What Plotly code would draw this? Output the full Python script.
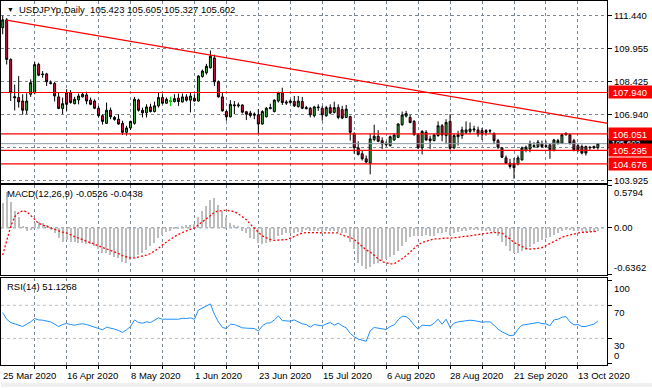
import plotly.graph_objects as go

# ---------------- data ----------------
bar_index = list(range(150))

opens = [110.90, 111.26, 109.45, 107.75, 107.71, 107.55, 107.13, 107.86, 107.93, 109.22,
         108.79, 108.79, 108.39, 108.35, 107.74, 107.21, 107.93, 107.93, 107.43, 107.60,
         107.74, 107.83, 107.59, 107.55, 107.22, 106.88, 106.53, 107.13, 106.80, 106.72,
         106.53, 106.12, 106.32, 106.53, 107.60, 107.13, 107.01, 107.28, 107.07, 107.33,
         107.71, 107.45, 107.55, 107.53, 107.68, 107.51, 107.74, 107.59, 107.68, 107.55,
         108.67, 108.84, 109.07, 109.52, 108.43, 107.74, 107.07, 106.83, 107.33, 107.33,
         107.37, 107.06, 107.00, 106.90, 106.92, 106.50, 106.83, 107.20, 107.07, 107.55,
         107.93, 107.51, 107.48, 107.53, 107.30, 107.53, 107.25, 107.22, 106.88, 107.28,
         107.22, 106.88, 107.25, 107.03, 107.25, 107.16, 106.80, 106.84, 106.07, 105.41,
         105.14, 104.91, 104.71, 105.79, 105.94, 105.74, 105.62, 105.51, 105.77, 105.89,
         106.47, 106.86, 106.80, 106.62, 106.01, 105.41, 106.12, 105.82, 105.74, 105.97,
         106.42, 105.97, 106.62, 105.41, 105.92, 105.97, 106.12, 106.16, 106.23, 106.23,
         106.20, 106.12, 106.20, 106.07, 105.74, 105.41, 104.95, 104.71, 104.68, 104.68,
         104.86, 105.29, 105.36, 105.47, 105.47, 105.59, 105.51, 105.55, 105.29, 105.62,
         105.62, 106.01, 106.01, 105.74, 105.51, 105.47, 105.47, 105.41, 105.41, 105.423]
highs = [111.45, 111.34, 109.50, 108.30, 108.69, 107.86, 107.90, 108.54, 109.33, 109.30,
         108.92, 108.84, 108.49, 108.43, 107.93, 107.71, 108.09, 108.05, 107.74, 107.89,
         107.93, 107.98, 107.71, 107.63, 107.33, 106.95, 107.48, 107.25, 106.87, 106.95,
         106.65, 106.42, 106.65, 107.74, 107.66, 107.25, 107.40, 107.43, 107.52, 107.93,
         107.86, 107.71, 107.74, 107.86, 107.89, 107.89, 107.86, 107.93, 107.86, 108.73,
         108.99, 109.25, 109.86, 109.67, 108.49, 107.93, 107.13, 107.59, 107.55, 107.48,
         107.40, 107.10, 107.10, 107.03, 107.18, 107.13, 107.28, 107.43, 107.63, 107.98,
         108.16, 107.59, 107.63, 107.78, 107.78, 107.74, 107.33, 107.28, 107.33, 107.40,
         107.33, 107.33, 107.40, 107.52, 107.40, 107.33, 107.37, 106.88, 106.12, 105.71,
         105.29, 105.06, 106.04, 106.47, 106.22, 105.89, 105.71, 105.97, 106.07, 106.53,
         107.07, 107.10, 106.92, 106.68, 106.07, 106.22, 106.22, 105.97, 106.04, 106.62,
         106.50, 106.72, 106.95, 106.04, 106.19, 106.38, 106.62, 106.57, 106.42, 106.38,
         106.32, 106.27, 106.27, 106.12, 105.82, 105.44, 105.06, 104.91, 104.95, 105.06,
         105.47, 105.51, 105.74, 105.67, 105.77, 105.74, 105.74, 105.59, 105.82, 105.82,
         106.04, 106.12, 106.04, 105.82, 105.59, 105.56, 105.51, 105.47, 105.51, 105.605]
lows = [110.60, 109.22, 107.55, 107.12, 107.25, 106.92, 106.95, 107.74, 107.86, 108.69,
        108.61, 108.24, 108.31, 107.53, 107.18, 106.95, 107.10, 107.43, 107.40, 107.40,
        107.71, 107.40, 107.36, 107.18, 106.80, 106.47, 106.50, 106.72, 106.65, 106.47,
        106.00, 105.97, 106.23, 106.47, 107.07, 106.80, 106.80, 107.03, 107.03, 107.25,
        107.40, 107.43, 107.33, 107.48, 107.33, 107.48, 107.53, 107.03, 107.53, 107.53,
        108.62, 108.76, 109.04, 108.24, 107.71, 107.07, 106.65, 106.80, 106.95, 107.25,
        106.98, 106.68, 106.80, 106.72, 106.06, 106.47, 106.80, 107.18, 107.03, 107.48,
        107.37, 107.37, 107.43, 107.28, 107.25, 107.18, 107.18, 106.80, 106.80, 107.10,
        106.65, 106.83, 106.95, 106.98, 106.72, 106.72, 106.77, 105.74, 105.14, 105.06,
        104.83, 104.71, 104.20, 105.71, 105.67, 105.36, 105.47, 105.47, 105.74, 105.86,
        106.42, 106.80, 106.53, 105.97, 105.36, 105.11, 105.74, 105.36, 105.71, 105.92,
        105.71, 105.59, 105.32, 105.36, 105.52, 105.82, 106.04, 106.04, 106.12, 105.92,
        105.77, 105.97, 106.07, 105.59, 105.36, 104.95, 104.68, 104.46, 104.00, 104.61,
        104.83, 105.21, 105.21, 105.41, 105.41, 105.41, 105.41, 104.91, 105.25, 105.56,
        105.59, 105.97, 105.56, 105.25, 105.21, 105.11, 105.06, 105.32, 105.36, 105.327]
closes = [111.26, 109.45, 107.93, 107.70, 107.51, 107.13, 107.55, 108.39, 109.22, 108.73,
          108.76, 108.43, 108.35, 107.78, 107.21, 107.43, 107.40, 107.48, 107.63, 107.78,
          107.86, 107.55, 107.40, 107.22, 106.88, 106.62, 107.13, 106.83, 106.71, 106.50,
          106.12, 106.32, 106.62, 107.63, 107.13, 107.01, 107.28, 107.07, 107.33, 107.71,
          107.45, 107.63, 107.55, 107.66, 107.53, 107.74, 107.59, 107.78, 107.55, 108.69,
          108.92, 109.14, 109.60, 108.43, 107.74, 107.10, 106.83, 107.40, 107.37, 107.37,
          107.04, 106.95, 106.89, 106.95, 106.50, 107.07, 107.22, 107.25, 107.59, 107.93,
          107.48, 107.46, 107.55, 107.33, 107.55, 107.22, 107.20, 106.92, 107.28, 107.25,
          106.92, 107.25, 107.00, 107.25, 106.80, 106.77, 107.18, 106.12, 105.41, 105.11,
          104.91, 104.76, 105.82, 105.94, 105.71, 105.59, 105.56, 105.92, 106.00, 106.50,
          106.91, 106.98, 106.57, 106.01, 105.41, 106.16, 105.77, 105.74, 106.00, 106.42,
          106.00, 106.57, 105.39, 105.97, 106.01, 106.23, 106.23, 106.27, 106.27, 106.04,
          106.04, 106.20, 106.18, 105.74, 105.44, 104.98, 104.71, 104.56, 104.50, 104.95,
          105.41, 105.44, 105.59, 105.51, 105.67, 105.47, 105.47, 105.32, 105.77, 105.74,
          106.01, 106.07, 105.62, 105.32, 105.32, 105.17, 105.17, 105.44, 105.47, 105.602]

macd_main = [0.33, 0.49, 0.35, 0.22, 0.15, 0.02, -0.05, -0.03, 0.06, 0.07,
             0.06, 0.03, -0.03, -0.07, -0.14, -0.19, -0.17, -0.19, -0.20, -0.21,
             -0.21, -0.22, -0.23, -0.25, -0.29, -0.34, -0.34, -0.37, -0.40, -0.42,
             -0.47, -0.48, -0.44, -0.40, -0.37, -0.34, -0.30, -0.25, -0.21, -0.14,
             -0.10, -0.06, -0.04, -0.02, -0.01, 0.02, 0.03, 0.04, 0.05, 0.15,
             0.22, 0.29, 0.38, 0.40, 0.31, 0.22, 0.15, 0.06, 0.03, 0.01,
             -0.05, -0.08, -0.14, -0.16, -0.21, -0.23, -0.21, -0.19, -0.15, -0.12,
             -0.10, -0.08, -0.07, -0.07, -0.06, -0.06, -0.03, -0.05, -0.04, -0.04,
             -0.06, -0.05, -0.05, -0.04, -0.06, -0.08, -0.07, -0.19, -0.29, -0.48,
             -0.52, -0.56, -0.53, -0.50, -0.48, -0.45, -0.43, -0.40, -0.37, -0.32,
             -0.25, -0.19, -0.13, -0.11, -0.12, -0.11, -0.10, -0.12, -0.11, -0.08,
             -0.07, -0.06, -0.10, -0.08, -0.06, -0.05, -0.04, -0.03, -0.03, -0.03,
             -0.04, -0.04, -0.04, -0.06, -0.11, -0.19, -0.25, -0.32, -0.34, -0.34,
             -0.32, -0.30, -0.26, -0.23, -0.20, -0.17, -0.14, -0.13, -0.10, -0.07,
             -0.04, -0.03, -0.03, -0.04, -0.04, -0.05, -0.06, -0.06, -0.06, -0.0526]
macd_signal = [-0.37, -0.16, 0.02, 0.15, 0.21, 0.23, 0.22, 0.17, 0.11, 0.06,
               0.04, 0.02, -0.01, -0.03, -0.05, -0.06, -0.07, -0.10, -0.12, -0.14,
               -0.16, -0.19, -0.21, -0.23, -0.25, -0.27, -0.28, -0.30, -0.32, -0.35,
               -0.38, -0.40, -0.41, -0.41, -0.40, -0.39, -0.37, -0.35, -0.32, -0.28,
               -0.23, -0.19, -0.15, -0.12, -0.09, -0.06, -0.04, -0.02, 0.00, 0.04,
               0.08, 0.13, 0.17, 0.21, 0.23, 0.24, 0.24, 0.23, 0.22, 0.19,
               0.15, 0.11, 0.05, -0.01, -0.06, -0.11, -0.14, -0.16, -0.17, -0.17,
               -0.17, -0.16, -0.14, -0.12, -0.10, -0.07, -0.065, -0.065, -0.065, -0.065,
               -0.065, -0.065, -0.065, -0.065, -0.07, -0.10, -0.11, -0.13, -0.16, -0.21,
               -0.25, -0.30, -0.33, -0.38, -0.42, -0.46, -0.48, -0.49, -0.49, -0.46,
               -0.42, -0.38, -0.33, -0.28, -0.23, -0.20, -0.18, -0.16, -0.15, -0.15,
               -0.14, -0.14, -0.14, -0.14, -0.13, -0.12, -0.12, -0.11, -0.10, -0.09,
               -0.08, -0.07, -0.06, -0.06, -0.07, -0.07, -0.12, -0.15, -0.20, -0.23,
               -0.25, -0.28, -0.29, -0.29, -0.28, -0.27, -0.24, -0.22, -0.19, -0.15,
               -0.13, -0.11, -0.10, -0.08, -0.07, -0.06, -0.06, -0.05, -0.05, -0.0438]
rsi = [61.2, 53.2, 49.2, 47.6, 46.8, 44.4, 47.2, 50.0, 54.0, 52.4,
       52.0, 50.8, 50.0, 47.2, 44.4, 46.8, 48.0, 46.8, 46.0, 47.2,
       47.6, 46.8, 45.2, 44.0, 42.0, 40.4, 43.6, 42.8, 41.2, 39.6,
       37.2, 40.4, 44.4, 52.4, 49.2, 48.4, 50.0, 49.2, 51.6, 54.8,
       53.2, 53.2, 53.2, 53.6, 53.2, 54.4, 54.0, 54.8, 53.2, 64.4,
       67.2, 69.2, 71.7, 59.2, 50.0, 43.2, 42.0, 47.2, 46.8, 45.2,
       42.8, 42.4, 42.4, 42.0, 38.8, 45.2, 48.4, 48.8, 52.4, 57.2,
       51.6, 51.6, 50.8, 52.4, 50.0, 47.6, 46.8, 43.6, 46.8, 46.4,
       45.2, 47.6, 49.2, 46.0, 48.4, 45.2, 42.8, 36.0, 32.0, 29.2,
       27.6, 26.4, 39.2, 43.2, 42.4, 41.2, 40.8, 44.4, 46.4, 52.4,
       56.8, 56.4, 52.4, 46.0, 41.2, 46.0, 46.0, 45.2, 48.4, 53.2,
       47.2, 53.2, 43.2, 48.4, 50.0, 50.8, 51.6, 52.0, 51.6, 50.8,
       49.6, 50.0, 50.0, 46.0, 41.2, 38.0, 35.2, 33.2, 34.0, 41.2,
       46.0, 47.2, 47.6, 48.4, 49.2, 48.0, 47.6, 45.2, 52.4, 53.2,
       55.6, 56.4, 50.0, 46.4, 46.8, 44.4, 44.4, 46.0, 47.2, 51.1268]

date_tick_idx = [0, 16, 32, 48, 64, 80, 96, 112, 128, 144]
date_tick_text = ["25 Mar 2020", "16 Apr 2020", "8 May 2020", "1 Jun 2020", "23 Jun 2020",
                  "15 Jul 2020", "6 Aug 2020", "28 Aug 2020", "21 Sep 2020", "13 Oct 2020"]
grid_idx = [8, 16, 24, 32, 40, 48, 56, 64, 72, 80, 88, 96, 104, 112, 120, 128, 136, 144]
price_ticks = [103.925, 105.430, 106.940, 108.425, 109.955, 111.440]
price_tick_text = ["103.925", "", "106.940", "108.425", "109.955", "111.440"]
h_levels = [107.940, 106.051, 105.295, 104.676]
trend_x = [1, 151.5]
trend_y = [111.25, 106.53]
macd_min, macd_max = -0.6362, 0.5794
rsi_levels = [70, 30]
rsi_labels = [100, 70, 30, 0]
rsi_label_text = ["100", "70", "30", "0"]

# ---------------- styling ----------------
FONT = "Liberation Sans, Arial, sans-serif"
GRID = "#7A8896"
W, H = 652, 390
XR = [-0.425, 151.3]
XDOM = [0, 607 / W]


def py(px):  # pixel row -> paper y
    return (H - px) / H


fig = go.Figure()

fig.add_trace(go.Candlestick(
    x=bar_index, open=opens, high=highs, low=lows, close=closes,
    increasing=dict(line=dict(color="black", width=1), fillcolor="#3DAA3D"),
    decreasing=dict(line=dict(color="black", width=1), fillcolor="#C8143C"),
    whiskerwidth=0, hoverinfo="skip", xaxis="x", yaxis="y"))

doji = [i for i in bar_index if opens[i] == closes[i]]
if doji:
    fig.add_trace(go.Candlestick(
        x=doji, open=[opens[i] for i in doji], high=[highs[i] for i in doji],
        low=[lows[i] for i in doji], close=[closes[i] for i in doji],
        increasing=dict(line=dict(color="#00E000", width=1), fillcolor="#00E000"),
        decreasing=dict(line=dict(color="#00E000", width=1), fillcolor="#00E000"),
        whiskerwidth=0, hoverinfo="skip", xaxis="x", yaxis="y"))

fig.add_trace(go.Scatter(x=trend_x, y=trend_y, mode="lines",
                         line=dict(color="#FF0000", width=1.2), hoverinfo="skip",
                         xaxis="x", yaxis="y"))

fig.add_trace(go.Bar(x=bar_index, y=macd_main, width=0.3, marker_color="#BDBDBD",
                     marker_line_width=0, hoverinfo="skip", xaxis="x2", yaxis="y2"))
fig.add_trace(go.Scatter(x=bar_index, y=macd_signal, mode="lines",
                         line=dict(color="#FF0000", width=1.3, dash="2px,2px"),
                         hoverinfo="skip", xaxis="x2", yaxis="y2"))

fig.add_trace(go.Scatter(x=bar_index, y=rsi, mode="lines",
                         line=dict(color="#1E90FF", width=1), hoverinfo="skip",
                         xaxis="x3", yaxis="y3"))

xcommon = dict(range=XR, domain=XDOM, showline=True, mirror=True, linecolor="black",
               linewidth=1, tickmode="array", tickvals=grid_idx, showgrid=True,
               gridcolor=GRID, griddash="3px,3px", gridwidth=1, zeroline=False,
               showticklabels=False, ticks="", fixedrange=True)

ycommon = dict(side="right", showline=True, mirror=True, linecolor="black", linewidth=1,
               zeroline=False, ticks="outside", ticklen=4, tickcolor="black",
               tickfont=dict(size=9.5, color="black", family=FONT), fixedrange=True)

fig.update_layout(
    width=W, height=H, margin=dict(l=0, r=0, t=0, b=0),
    paper_bgcolor="white", plot_bgcolor="white", showlegend=False,
    font=dict(family=FONT, size=9.5, color="black"),
    bargap=0,
    xaxis=dict(**xcommon, anchor="y", rangeslider=dict(visible=False)),
    xaxis2=dict(**xcommon, anchor="y2"),
    xaxis3=dict(**{k: v for k, v in xcommon.items() if k not in ("tickvals", "ticks")},
                anchor="y3", tickvals=grid_idx, ticks="outside", ticklen=3,
                tickcolor="black"),
    yaxis=dict(**ycommon, anchor="x", domain=[py(184.5), py(1.5)],
               range=[103.80, 112.10], tickmode="array", tickvals=price_ticks,
               ticktext=price_tick_text, showgrid=True, gridcolor=GRID,
               griddash="3px,3px"),
    yaxis2=dict(**ycommon, anchor="x2", domain=[py(276.7), py(186.7)],
                range=[macd_min, macd_max], tickmode="array",
                tickvals=[macd_min, 0, macd_max], showticklabels=False, showgrid=False),
    yaxis3=dict(**ycommon, anchor="x3", domain=[py(367.7), py(279.7)],
                range=[-2, 103.6], tickmode="array", tickvals=rsi_labels,
                showticklabels=False, showgrid=False),
)

shapes = []
for lvl in h_levels:
    shapes.append(dict(type="line", xref="x domain", yref="y", x0=0, x1=1, y0=lvl, y1=lvl,
                       line=dict(color="#FF0000", width=1.2)))
shapes.append(dict(type="line", xref="x domain", yref="y", x0=0, x1=1,
                   y0=closes[-1], y1=closes[-1], line=dict(color="#8A98A6", width=1)))
shapes.append(dict(type="line", xref="x2 domain", yref="y2", x0=0, x1=1, y0=0, y1=0,
                   line=dict(color=GRID, width=1, dash="3px,3px"), layer="below"))
for lvl in rsi_levels:
    shapes.append(dict(type="line", xref="x3 domain", yref="y3", x0=0, x1=1, y0=lvl, y1=lvl,
                       line=dict(color="#BFBFBF", width=1, dash="3px,3px"), layer="below"))
shapes.append(dict(type="rect", xref="paper", yref="paper", x0=0, x1=1, y0=0, y1=py(386),
                   fillcolor="#EFEFEF", line=dict(width=0), layer="below"))
fig.update_layout(shapes=shapes)

ann = []
LX = 611.5 / W
# header
ann.append(dict(xref="paper", yref="paper", x=4 / W, y=py(10), xanchor="left",
                yanchor="middle", text="▼", showarrow=False, font=dict(size=7)))
hdr = "USDJPYp,Daily\u00a0 %.3f %.3f %.3f %.3f" % (opens[-1], highs[-1], lows[-1], closes[-1])
ann.append(dict(xref="paper", yref="paper", x=16 / W, y=py(10), xanchor="left",
                yanchor="middle", text=hdr, showarrow=False, font=dict(size=9.5)))
ann.append(dict(xref="paper", yref="paper", x=4 / W, y=py(195), xanchor="left",
                yanchor="middle", showarrow=False, font=dict(size=9.5),
                text="MACD(12,26,9) %.4f %.4f" % (macd_main[-1], macd_signal[-1])))
ann.append(dict(xref="paper", yref="paper", x=4 / W, y=py(288.5), xanchor="left",
                yanchor="middle", showarrow=False, font=dict(size=9.5),
                text="RSI(14) %.4f" % rsi[-1]))
# MACD axis labels
ann.append(dict(xref="paper", yref="y2", x=LX, y=macd_max, xanchor="left", yanchor="top",
                text="%.4f" % macd_max, showarrow=False))
ann.append(dict(xref="paper", yref="y2", x=LX, y=0, xanchor="left", yanchor="middle",
                text="0.00", showarrow=False))
ann.append(dict(xref="paper", yref="y2", x=LX, y=macd_min, xanchor="left",
                yanchor="bottom", text="%.4f" % macd_min, showarrow=False))
# RSI axis labels
for v, t in zip(rsi_labels, rsi_label_text):
    ann.append(dict(xref="paper", yref="y3", x=LX, y=v, xanchor="left",
                    yanchor="bottom" if v == 0 else "top", text=t, showarrow=False,
                    font=dict(size=9.5, color="black")))
# date labels
for idx, txt in zip(date_tick_idx, date_tick_text):
    ann.append(dict(xref="x3", yref="paper", x=idx - 0.4, y=py(378.5), xanchor="left",
                    yanchor="middle", text=txt, showarrow=False))
# price level boxes (current price first, red levels on top)
ann.append(dict(xref="paper", yref="y", x=607.5 / W, y=closes[-1], xanchor="left",
                yanchor="middle", text=" %.3f" % closes[-1], showarrow=False,
                bgcolor="black", font=dict(color="white", size=8), width=44, height=9,
                align="left", borderpad=0))
for lvl in h_levels:
    ann.append(dict(xref="paper", yref="y", x=607.5 / W, y=lvl, xanchor="left",
                    yanchor="middle", text=" %.3f" % lvl, showarrow=False,
                    bgcolor="#FF0000", font=dict(color="white", size=9.5), width=44,
                    height=10, align="left", borderpad=1))
fig.update_layout(annotations=ann)

fig.write_html("out.html", config={"displayModeBar": False},
               post_script="document.body.style.margin='0';")
